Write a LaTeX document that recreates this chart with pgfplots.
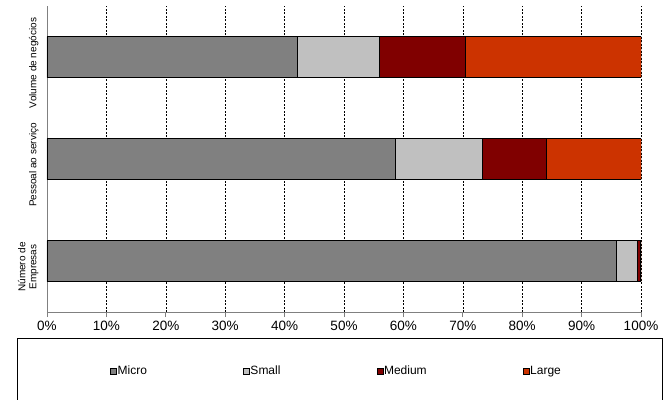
\documentclass[border=0pt]{standalone}
\usepackage{fontspec}
\setmainfont{Liberation Sans}
\usepackage{pgfplots}
\pgfplotsset{compat=1.18}
\definecolor{cmicro}{HTML}{808080}
\definecolor{csmall}{HTML}{C0C0C0}
\definecolor{cmedium}{HTML}{800000}
\definecolor{clarge}{HTML}{CC3300}
\begin{document}
\begin{tikzpicture}
\useasboundingbox (-47pt,-87pt) rectangle (624pt,312pt);
\draw[black, line width=0.7pt] (-30pt,-26pt) rectangle (615pt,-120pt);
\begin{axis}[
  at={(0pt,0pt)}, anchor=south west,
  scale only axis, width=594pt, height=306pt,
  xbar stacked, bar width=41pt,
  xmin=0, xmax=100, ymin=-0.5, ymax=2.5,
  axis x line*=bottom, axis y line*=left,
  axis line style={draw=gray, line width=0.8pt, -},
  xtick={0,10,...,100},
  xticklabel={\pgfmathprintnumber{\tick}\%},
  /pgf/number format/assume math mode=true,
  xticklabel style={font=\fontsize{13.5}{15}\selectfont, yshift=-1pt},
  tick align=outside, major tick length=5pt,
  tick style={draw=gray, line width=0.8pt},
  xmajorgrids, major grid style={black, line width=0.6pt, dash pattern=on 2pt off 1.5pt},
  ytick={0,1,2},
  yticklabels={{Número de\\Empresas},{Pessoal ao serviço},{Volume de negócios}},
  yticklabel style={rotate=90, anchor=south, align=center, font=\fontsize{10}{11}\selectfont, xshift=-6pt},
  ytick style={draw=none},
  extra y ticks={-0.5,0.5,1.5,2.5},
  extra y tick labels={},
  extra y tick style={tick style={draw=gray, line width=0.8pt}, major tick length=5pt, grid=none},
  legend columns=4,
  legend style={draw=none, fill=none, at={(rel axis cs:0.106,-0.193)}, anchor=west,
    font=\fontsize{12}{14}\selectfont, inner sep=0pt,
    nodes={inner xsep=1pt},
    /tikz/every even column/.append style={column sep=95pt}},
  legend image code/.code={\draw[#1, draw=black, line width=0.5pt] (0pt,-3pt) rectangle (6pt,3pt);},
  every axis plot/.append style={draw=black, line width=0.6pt},
]
\addplot[fill=cmicro] coordinates {(95.8,0) (58.6,1) (42.1,2)};
\addplot[fill=csmall] coordinates {(3.5,0) (14.6,1) (13.8,2)};
\addplot[fill=cmedium] coordinates {(0.5,0) (10.8,1) (14.6,2)};
\addplot[fill=clarge] coordinates {(0.2,0) (16.0,1) (29.5,2)};
\legend{Micro,Small,Medium,Large}
\end{axis}
\end{tikzpicture}
\end{document}
